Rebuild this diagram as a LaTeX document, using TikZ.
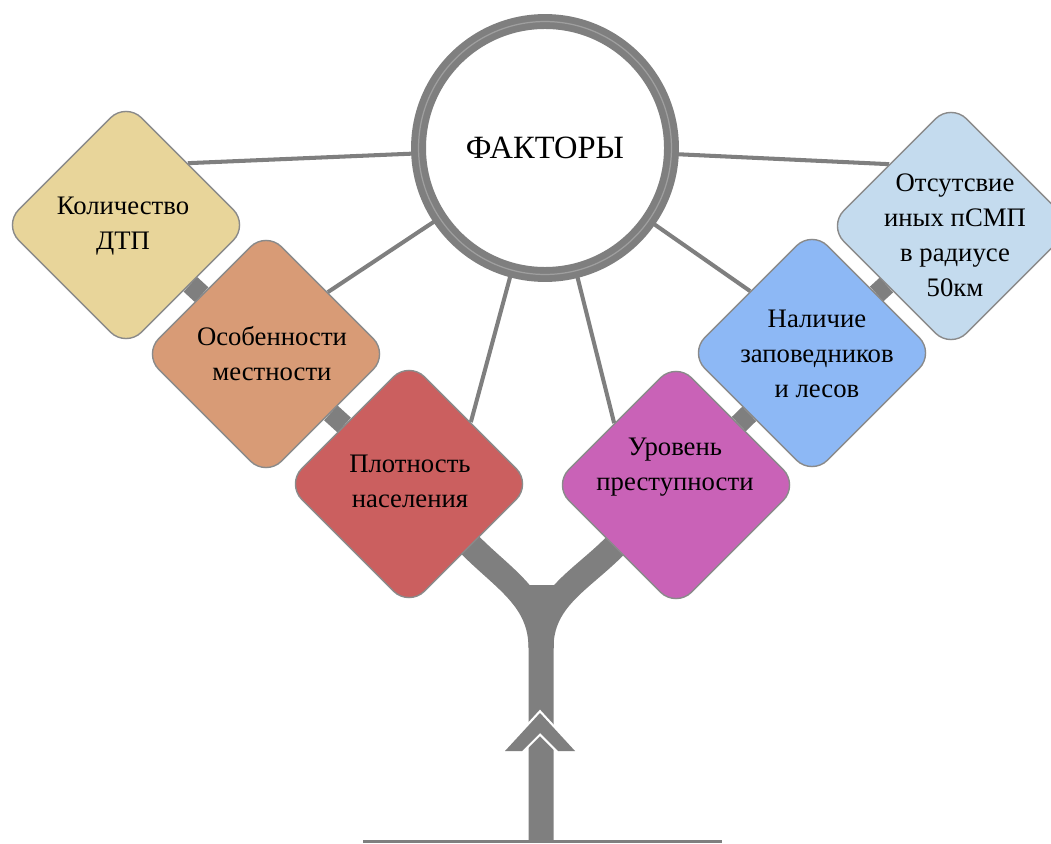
\documentclass[tikz,border=0pt]{standalone}
\usepackage{fontspec}
\setmainfont{Liberation Serif}
\usetikzlibrary{backgrounds, positioning}

\definecolor{trunk}{HTML}{7F7F7F}
\definecolor{frame}{HTML}{8A8A8A}
\definecolor{dtp}{HTML}{E8D59A}
\definecolor{terrain}{HTML}{D89B76}
\definecolor{density}{HTML}{CB5F5F}
\definecolor{crime}{HTML}{C962B7}
\definecolor{forest}{HTML}{8DB8F5}
\definecolor{absent}{HTML}{C4DBEE}

\begin{document}
\begin{tikzpicture}[
            x=0.02cm, y=0.02cm,
            % Style for the rounded squares turned on their corner
            factor/.style={draw=frame, line width=0.8pt, rounded corners=0.44cm,
                minimum size=3.47cm, inner sep=0, rotate=45},
            % Style for the words inside the squares
            words/.style={align=center, font=\fontsize{15.2}{20}\selectfont},
            % Style for the thin lines out of the circle
            spoke/.style={draw=trunk, line width=2.3pt},
            % Style for the short thick links between squares
            link/.style={draw=trunk, line width=0.4cm},
            % Style for the stem of the tree
            stem/.style={draw=trunk, line width=0.5cm}
        ]
        \useasboundingbox (0,0) rectangle (1051,843);

        % --- Central circle ---
        \node[circle, draw=trunk, double=trunk!75, double distance=0.7pt, line width=3.9pt,
            fill=white, minimum size=5.06cm, font=\fontsize{18.5}{20}\selectfont] (c) at (545,695) {ФАКТОРЫ};

        % --- The six factors ---
        \foreach \n/\p/\col/\t/\txt in {
            d1/{(126,618)}/dtp/{(123,617)}/{Количество\\ДТП},
            d2/{(266,489)}/terrain/{(272,489)}/{Особенности\\местности},
            d3/{(409,359)}/density/{(410,362)}/{Плотность\\населения},
            d4/{(676,358)}/crime/{(675,376)}/{Уровень\\преступности},
            d5/{(812,490)}/forest/{(817,489)}/{Наличие\\заповедников\\и лесов},
            d6/{(951,617)}/absent/{(955,608)}/{Отсутсвие\\иных пСМП\\в радиусе\\50км}} {
            % Draw the square first
            \node[factor, fill=\col] (\n) at \p {};
            % Then place its text
            \node[words] (\n t) at \t {\txt};
        }

        \begin{scope}[on background layer]
            % Lines from the circle to the squares
            \foreach \n/\a in {d1/east, d2/east, d3/east, d4/north, d5/north, d6/north} {
                \draw[spoke] (c.center) -- (\n.\a);
            }
            % Links between neighbouring squares
            \foreach \a/\b in {d1/d2, d2/d3, d6/d5, d5/d4} {
                \draw[link] (\a) -- (\b);
            }
            % Stem: two branches joining into one trunk
            \coordinate (top) at (541,258);
            \coordinate (fork) at (541,195);
            \coordinate (root) at (541,3);
            \draw[stem] (d3.center) -- (d3.south) to[out=-45, in=90] (fork) -- (root);
            \draw[stem] (d4.center) -- (d4.west) to[out=-135, in=90] (fork);
            \draw[stem] (top) -- (fork);
        \end{scope}

        % Arrow mark on the trunk
        \draw[white, line width=0.09cm, line join=miter]
            (540,130) -- (575,92) -- (558,92) -- (540,110) -- (522,92) -- (505,92) -- cycle;
        \fill[trunk] (540,130) -- (575,92) -- (558,92) -- (540,110) -- (522,92) -- (505,92) -- cycle;

        % Ground line
        \coordinate (gl) at (363,2);
        \coordinate (gr) at (722,2);
        \draw[trunk, line width=0.06cm] (gl) -- (gr);

        \end{tikzpicture}
\end{document}
